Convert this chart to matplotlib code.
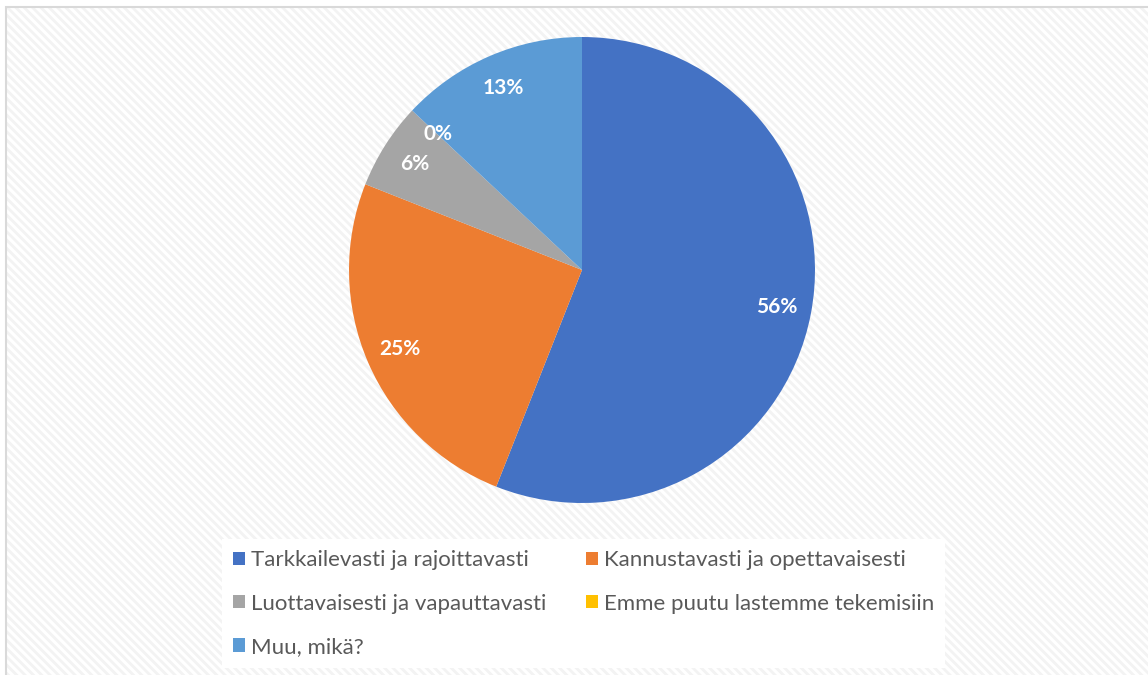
import matplotlib.pyplot as plt
from matplotlib.patches import Rectangle, Patch

plt.rcParams['font.family'] = ['Lato', 'DejaVu Sans']
plt.rcParams['hatch.linewidth'] = 2.0

# data
categories = [
    "Tarkkailevasti ja rajoittavasti",
    "Kannustavasti ja opettavaisesti",
    "Luottavaisesti ja vapauttavasti",
    "Emme puutu lastemme tekemisiin",
    "Muu, mikä?",
]
shares = [56, 25, 6, 0, 13]
colors = ['#4472C4', '#ED7D31', '#A5A5A5', '#FFC000', '#5B9BD5']

W, H = 1148, 675
fig = plt.figure(figsize=(W / 100, H / 100), dpi=100)
fig.patch.set_facecolor('white')

# hatched background + light frame
bg = Rectangle((6 / W, -0.01), 1.0, 1 - 7 / H + 0.01, transform=fig.transFigure,
               facecolor='white', edgecolor='#f3f3f3', linewidth=0,
               hatch='\\\\\\\\', zorder=-5)
fig.patches.append(bg)
frame = Rectangle((6 / W, -0.01), 1.0, 1 - 7 / H + 0.01, transform=fig.transFigure,
                  facecolor='none', edgecolor='#d9d9d9', linewidth=1.5, zorder=-4)
fig.patches.append(frame)

# pie, centre (582, 270) px, radius 233 px
ax = fig.add_axes([349 / W, 172 / H, 466 / W, 466 / H])
wedges, texts, autotexts = ax.pie(
    shares, colors=colors, startangle=90, counterclock=False,
    autopct='%.0f%%', pctdistance=0.85, radius=1,
    textprops=dict(color='white', fontsize=15, fontweight='bold'),
)
ax.set_xlim(-1, 1)
ax.set_ylim(-1, 1)
ax.set_aspect('equal')
ax.axis('off')

# legend in row-major order
handles = [Patch(facecolor=c, edgecolor='none') for c in colors]
order = [0, 2, 4, 1, 3]
leg = fig.legend(
    [handles[i] for i in order], [categories[i] for i in order],
    ncol=2, loc='lower left', bbox_to_anchor=(222 / W, 7 / H, 723 / W, 138 / H),
    mode='expand', frameon=True, fancybox=False, framealpha=1,
    facecolor='white', edgecolor='none', fontsize=16,
    handlelength=0.55, handleheight=0.55, handletextpad=0.25,
    labelspacing=1.05, borderpad=0.5, borderaxespad=0, columnspacing=2.0,
    labelcolor='#595959',
)

fig.savefig('out.png', dpi=100)
